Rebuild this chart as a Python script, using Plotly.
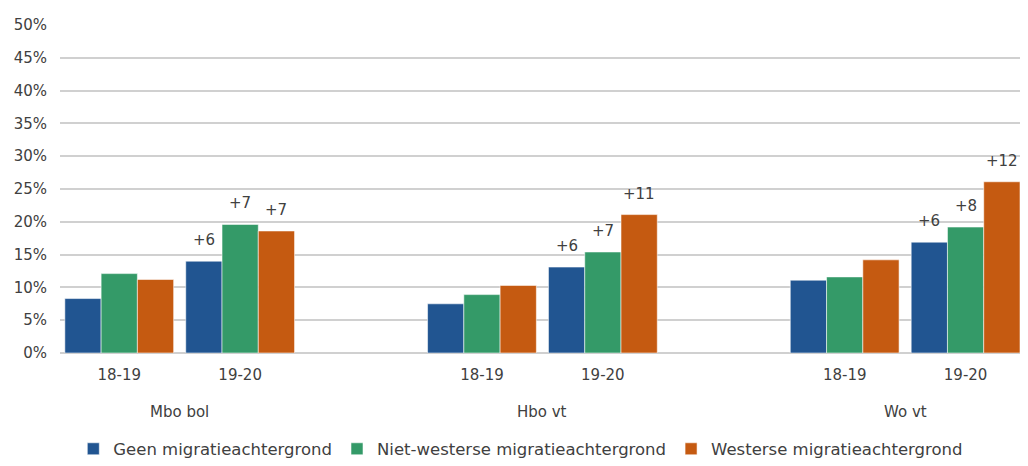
import plotly.graph_objects as go

# Data
groups = ["Mbo bol", "Hbo vt", "Wo vt"]
years = ["18-19", "19-20"]
series_names = ["Geen migratieachtergrond", "Niet-westerse migratieachtergrond", "Westerse migratieachtergrond"]
# values in %, order: Mbo 18-19, Mbo 19-20, Hbo 18-19, Hbo 19-20, Wo 18-19, Wo 19-20
geen = [8.3, 14.0, 7.5, 13.1, 11.1, 16.9]
niet_westers = [12.1, 19.6, 8.9, 15.4, 11.6, 19.2]
westers = [11.2, 18.6, 10.3, 21.1, 14.2, 26.1]
# growth labels (percentage points) shown above 19-20 bars, per group
diff_geen = ["+6", "+6", "+6"]
diff_niet = ["+7", "+7", "+8"]
diff_west = ["+7", "+11", "+12"]

colors = ["#215591", "#349a68", "#c55a11"]

# slot positions: two years per group, one empty slot between groups
slots = []
for gi in range(len(groups)):
    for yi in range(len(years)):
        slots.append(gi * 3 + yi)
tick_text = [y for _ in groups for y in years]

bargap = 0.1
fig = go.Figure()
all_series = [geen, niet_westers, westers]
all_diffs = [diff_geen, diff_niet, diff_west]
for i, (name, vals) in enumerate(zip(series_names, all_series)):
    fig.add_trace(go.Bar(
        x=slots, y=[v / 100 for v in vals], name=name,
        marker=dict(color=colors[i], line=dict(color="rgba(255,255,255,0.55)", width=1)),
        hoverinfo="skip",
    ))

bw = (1 - bargap) / 3
annotations = []
for i, (vals, diffs) in enumerate(zip(all_series, all_diffs)):
    for gi in range(len(groups)):
        idx = gi * 2 + 1
        annotations.append(dict(
            x=slots[idx] + (i - 1) * bw, y=vals[idx] / 100, xref="x", yref="y",
            text=diffs[gi], showarrow=False, yshift=21,
            font=dict(size=15, color="#404040", family="DejaVu Sans"),
        ))
for gi, g in enumerate(groups):
    annotations.append(dict(
        x=gi * 3 + 0.5, y=-0.179, xref="x", yref="paper", text=g, showarrow=False,
        yanchor="middle", font=dict(size=15, color="#404040", family="DejaVu Sans"),
    ))

# the page body has an 8px margin; size the figure so the page does not overflow
fig.update_layout(
    width=1012, height=450,
    margin=dict(l=52, r=0, t=16, b=105, autoexpand=False),
    barmode="group", bargap=bargap, bargroupgap=0,
    plot_bgcolor="white", paper_bgcolor="white",
    font=dict(family="DejaVu Sans", size=15, color="#404040"),
    xaxis=dict(
        range=[-0.49, 7.45], tickmode="array", tickvals=slots, ticktext=tick_text,
        showgrid=False, zeroline=False, showline=False, automargin=False,
        ticks="outside", ticklen=8, tickcolor="rgba(0,0,0,0)",
        tickfont=dict(size=15, color="#404040"),
    ),
    yaxis=dict(
        range=[0, 0.5015], tickmode="array",
        tickvals=[0, 0.05, 0.1, 0.15, 0.2, 0.25, 0.3, 0.35, 0.4, 0.45, 0.5],
        tickformat=".0%", automargin=False,
        showgrid=True, gridcolor="#d0d0d0", gridwidth=1.5,
        zeroline=True, zerolinecolor="#d0d0d0", zerolinewidth=1.5,
        ticks="", ticklabelstandoff=12,
        tickfont=dict(size=15, color="#404040"),
    ),
    legend=dict(
        orientation="h", x=0.48, xanchor="center", y=-0.292, yanchor="middle",
        font=dict(size=16.5, color="#404040"), itemclick=False, itemwidth=30,
        traceorder="normal",
    ),
    annotations=annotations,
    showlegend=True,
)

fig.write_html("out.html")
